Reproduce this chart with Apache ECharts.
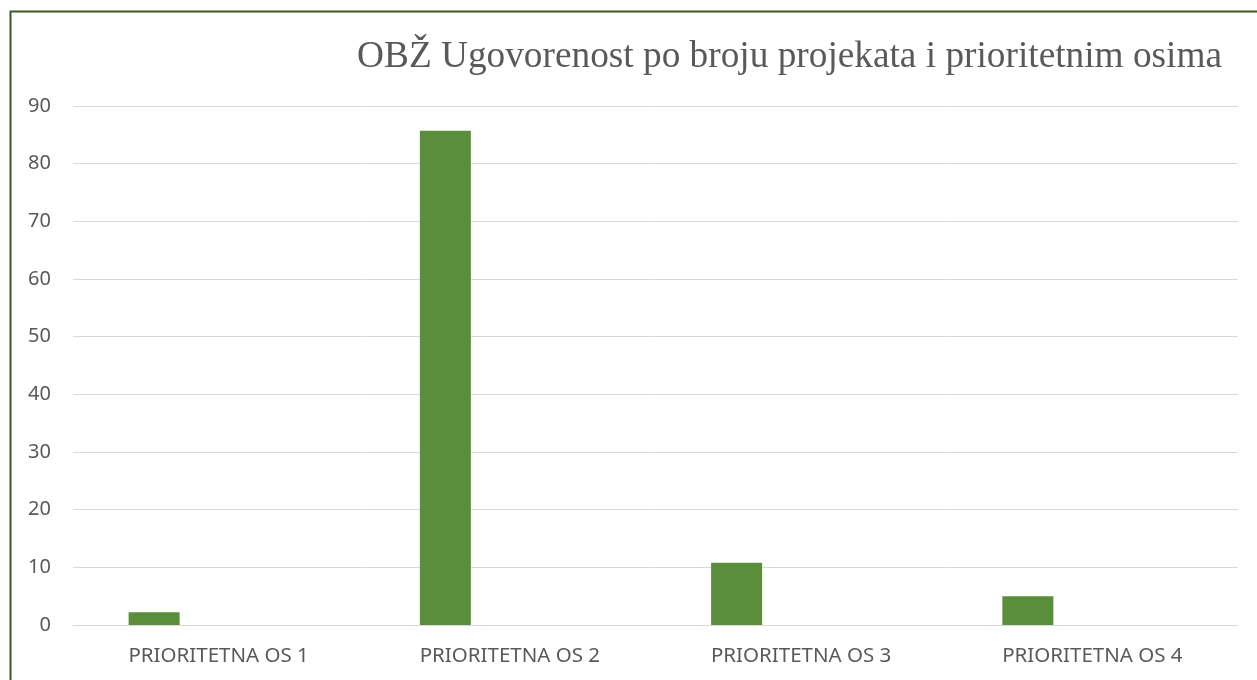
<!DOCTYPE html>
<html>
<head>
<meta charset="utf-8">
<script src="https://cdn.jsdelivr.net/npm/echarts@6/dist/echarts.min.js"></script>
<style>
  html, body { margin: 0; padding: 0; background: #fff; }
  #chart { width: 1257px; height: 680px; }
</style>
</head>
<body>
<div id="chart"></div>
<script>
const TITLE = 'OBŽ Ugovorenost po broju projekata i prioritetnim osima';
const categories = ['PRIORITETNA OS 1', 'PRIORITETNA OS 2', 'PRIORITETNA OS 3', 'PRIORITETNA OS 4'];
const projekti = [2.2, 85.7, 10.8, 5.0];
const prazno = [null, null, null, null]; // second (empty) series keeps bars left of centre
const yTicks = { min: 0, max: 90, interval: 10 };

const FONT = "'Noto Sans', sans-serif";
const GREY = '#595959';

const chart = echarts.init(document.getElementById('chart'));
chart.setOption({
  animation: false,
  textStyle: { fontFamily: FONT },
  title: {
    text: TITLE, right: 30, top: 34,
    textStyle: { fontFamily: "'Liberation Serif', serif", fontSize: 37.3, fontWeight: 'normal', color: GREY },
  },
  graphic: [{
    type: 'rect', left: 8, top: 9, silent: true,
    shape: { width: 1300, height: 720 },
    style: { fill: 'none', stroke: '#3a5b22', lineWidth: 2 },
  }],
  grid: { left: 73, right: 19, top: 106, bottom: 55, containLabel: false },
  xAxis: {
    type: 'category', data: categories,
    axisLine: { show: true, lineStyle: { color: '#d9d9d9', width: 1 } },
    axisTick: { show: false },
    axisLabel: { color: GREY, fontSize: 20.5, margin: 21 },
  },
  yAxis: {
    type: 'value', min: yTicks.min, max: yTicks.max, interval: yTicks.interval,
    axisLine: { show: false },
    axisTick: { show: false },
    splitLine: { lineStyle: { color: '#d9d9d9', width: 1 } },
    axisLabel: { color: GREY, fontSize: 20, margin: 22 },
  },
  series: [
    {
      type: 'bar', data: projekti, barWidth: 51, barGap: '153%',
      itemStyle: { color: '#5b8e3a' },
    },
    { type: 'bar', data: prazno, barWidth: 51 },
  ],
});
</script>
</body>
</html>
